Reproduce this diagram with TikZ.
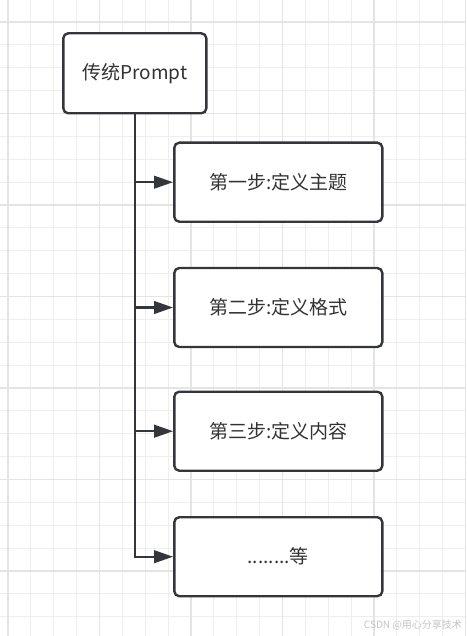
\documentclass[tikz,border=0pt]{standalone}
\usepackage{fontspec}
\setmainfont{Noto Sans CJK SC}
\usetikzlibrary{arrows.meta}
\definecolor{gridminor}{HTML}{EEEEEE}
\definecolor{gridmajor}{HTML}{E4E4E4}
\definecolor{ink}{HTML}{33373B}
\definecolor{txt}{HTML}{333333}
\definecolor{wm}{HTML}{C4C4C4}
\begin{document}
\begin{tikzpicture}[x=1pt,y=-1pt,
  box/.style={draw=ink, line width=2.4pt, rounded corners=5pt, fill=white,
    minimum width=208pt, minimum height=79pt, inner sep=0pt,
    font=\fontsize{19}{22}\selectfont, text=txt},
  link/.style={draw=ink, line width=2.4pt, -{Triangle[length=19pt,width=12.5pt]}}]
\useasboundingbox (0,0) rectangle (466,636);
\fill[white] (0,0) rectangle (466,636);
% grid
\foreach \i in {0,...,20} {
  \draw[gridminor, line width=1pt] ({8+22.87*\i},0) -- ({8+22.87*\i},636);
}
\foreach \j in {0,...,26} {
  \draw[gridminor, line width=1pt] (0,{22+22.87*\j}) -- (466,{22+22.87*\j});
}
\foreach \i in {0,4,...,20} {
  \draw[gridmajor, line width=1.3pt] ({8+22.87*\i},0) -- ({8+22.87*\i},636);
}
\foreach \j in {0,4,...,24} {
  \draw[gridmajor, line width=1.3pt] (0,{22+22.87*\j}) -- (466,{22+22.87*\j});
}
% nodes
\node[box, minimum width=143pt, minimum height=80pt] (top) at (134.8,73.3) {传统Prompt};
\node[box] (b1) at (278.3,182.2) {第一步:定义主题};
\node[box] (b2) at (278.3,307.5) {第二步:定义格式};
\node[box] (b3) at (278.3,431.2) {第三步:定义内容};
\node[box] (b4) at (278.3,556.7) {........等};
% connectors
\draw[link] (top.south) |- (b1.west);
\draw[link] (top.south) |- (b2.west);
\draw[link] (top.south) |- (b3.west);
\draw[link] (top.south) |- (b4.west);
% watermark
\node[anchor=east, text=wm, font=\fontsize{10}{12}\selectfont, inner sep=0pt] (wmk) at (462,625) {CSDN @用心分享技术};
\end{tikzpicture}
\end{document}
